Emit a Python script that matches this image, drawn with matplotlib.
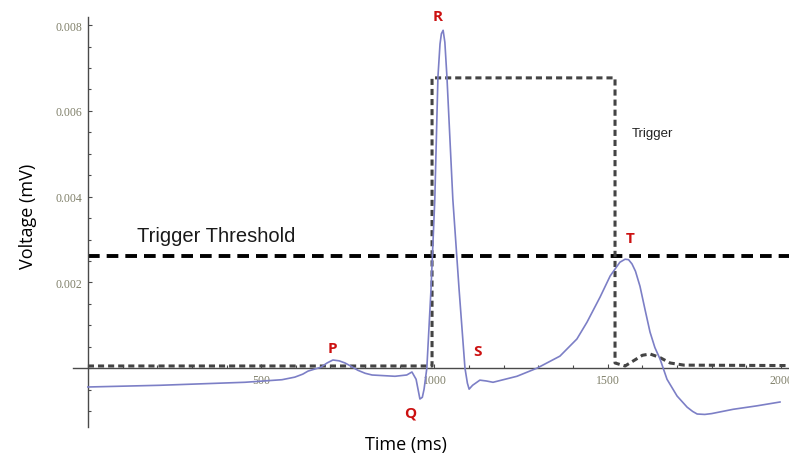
import matplotlib.pyplot as plt
from matplotlib.ticker import FixedLocator, MultipleLocator

# ECG trace (time in ms, voltage in mV)
ecg_t = [0, 208, 453, 560, 597, 620, 635, 655, 672, 690, 707, 725, 742, 760,
         779, 800, 820, 886, 920, 935, 947, 958, 965, 970, 978, 990, 1001,
         1010, 1016, 1020, 1025, 1030, 1036, 1053, 1071, 1088, 1095, 1100,
         1110, 1131, 1150, 1169, 1238, 1296, 1362, 1411, 1440, 1478, 1507,
         1521, 1535, 1550, 1560, 1570, 1580, 1593, 1608, 1622, 1636, 1651,
         1671, 1700, 1729, 1745, 1758, 1780, 1800, 1862, 1930, 1997]
ecg_v = [-0.00044, -0.00040, -0.00033, -0.00027, -0.00021, -0.00014,
         -0.00007, -0.00002, 0.00002, 0.00012, 0.00019, 0.00017, 0.00012,
         0.00004, -0.00005, -0.00012, -0.00016, -0.00019, -0.00016, -0.00009,
         -0.00026, -0.00072, -0.00068, -0.00049, 0.0, 0.00184, 0.00394,
         0.00679, 0.00756, 0.00780, 0.00788, 0.00760, 0.00679, 0.00394,
         0.00184, 0.0, -0.00035, -0.00049, -0.00040, -0.00028, -0.00030,
         -0.00033, -0.00019, 0.0, 0.00028, 0.00068, 0.00107, 0.00166,
         0.00215, 0.00231, 0.00247, 0.00254, 0.00253, 0.00243, 0.00226,
         0.00191, 0.00135, 0.00084, 0.00048, 0.00021, -0.00026, -0.00065,
         -0.00091, -0.00101, -0.00107, -0.00108, -0.00106, -0.00096,
         -0.00088, -0.00079]

# trigger output
trig_t = [0, 993, 993, 1521, 1521, 1550, 1600, 1622, 1650, 1680, 1720, 2023]
trig_v = [0.00005, 0.00005, 0.00677, 0.00677, 0.00012, 0.00005, 0.00030,
          0.00033, 0.00025, 0.00012, 0.00007, 0.00006]

threshold = 0.00261

# wave labels: name, time, voltage
waves = [("P", 704, 0.00047), ("Q", 929, -0.00103), ("R", 1010, 0.00821),
         ("S", 1123, 0.00040), ("T", 1564, 0.00303)]

x_ticks = [500, 1000, 1500, 2000]
y_ticks = [0.002, 0.004, 0.006, 0.008]

fig = plt.figure(figsize=(7.89, 4.64), dpi=100)
ax = fig.add_axes([73 / 789, 1 - 428 / 464, 1 - 73 / 789, 410 / 464])
ax.set_xlim(-43, 2023)
ax.set_ylim(-0.001373, 0.00819)

ax.plot([0, 2023], [threshold, threshold], color="black", lw=2.8,
        dashes=(3, 1.8), zorder=2)
ax.plot(trig_t, trig_v, color="#444444", lw=2.2, dashes=(2, 1.3), zorder=2)
ax.plot(ecg_t, ecg_v, color="#7c7fc6", lw=1.2, zorder=3)

# axes crossing at the origin
ax.spines["left"].set_position(("data", 0))
ax.spines["bottom"].set_position(("data", 0))
ax.spines["top"].set_visible(False)
ax.spines["right"].set_visible(False)
for s in ("left", "bottom"):
    ax.spines[s].set_color("#4a4a4a")
    ax.spines[s].set_linewidth(1.0)

ax.xaxis.set_major_locator(FixedLocator(x_ticks))
ax.yaxis.set_major_locator(FixedLocator(y_ticks))
ax.xaxis.set_minor_locator(MultipleLocator(100))
ax.yaxis.set_minor_locator(MultipleLocator(0.0005))
ax.set_xticklabels([str(v) for v in x_ticks])
ax.set_yticklabels([f"{v:.3f}" for v in y_ticks])
ax.tick_params(which="both", direction="in", color="#4a4a4a", width=0.8,
               labelsize=8.5, labelcolor="#80806a", pad=4)
ax.tick_params(which="major", length=3)
ax.tick_params(which="minor", length=2)
for lbl in ax.get_xticklabels() + ax.get_yticklabels():
    lbl.set_family("Liberation Serif")

for name, t, v in waves:
    ax.text(t, v, name, color="#cc1111", fontsize=11, fontweight="bold",
            family="Open Sans", ha="center", va="center")

ax.text(369, 0.00310, "Trigger Threshold", fontsize=14.5,
        family="Liberation Sans", color="#1a1a1a", ha="center", va="center")
ax.text(1570, 0.00548, "Trigger", fontsize=9.5, family="Liberation Sans",
        color="#222222", ha="left", va="center")

fig.text(28 / 789, 1 - 216 / 464, "Voltage (mV)", rotation=90, fontsize=13,
         family="Open Sans", ha="center", va="center")
fig.text(406 / 789, 1 - 445 / 464, "Time (ms)", fontsize=13,
         family="Open Sans", ha="center", va="center")

fig.savefig("out.png", dpi=100)
